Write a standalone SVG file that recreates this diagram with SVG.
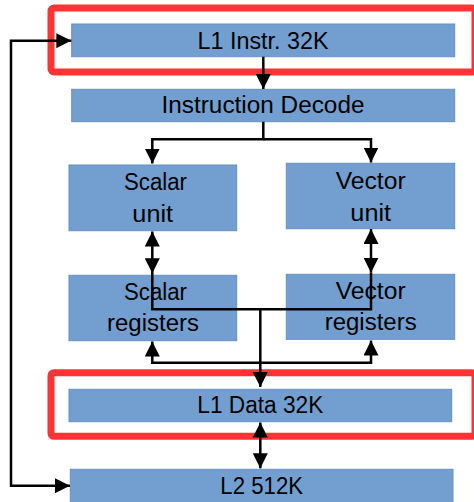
<svg xmlns="http://www.w3.org/2000/svg" width="474" height="502" viewBox="0 0 474 502">
<defs>
<style>
.box{fill:#729fcf;stroke:#6690c4;stroke-width:1}
.lbl{font-family:"Liberation Sans",Arial,sans-serif;font-size:23px;fill:#000;text-anchor:middle}
.hl{fill:none;stroke:#ff3333;stroke-width:7}
.ln{fill:none;stroke:#000;stroke-width:2.5}
</style>
<marker id="ah" viewBox="0 0 10 10" refX="10" refY="5" markerWidth="6" markerHeight="6" markerUnits="strokeWidth" orient="auto-start-reverse">
<path d="M0,0 L10,5 L0,10 z" fill="#000"/>
</marker>
</defs>
<rect x="0" y="0" width="474" height="502" fill="#fff"/>

<g id="highlight-l1i"><rect class="hl" x="51" y="8" width="424" height="64" rx="3"/></g>
<g id="highlight-l1d"><rect class="hl" x="51" y="372.7" width="424" height="63.6" rx="3"/></g>

<g id="l1-instr"><rect class="box" x="71.7" y="24" width="383" height="32.7"/><text class="lbl" x="263" y="49" textLength="131" lengthAdjust="spacingAndGlyphs">L1 Instr. 32K</text></g>
<g id="decode"><rect class="box" x="71.7" y="89.3" width="383" height="32.4"/><text class="lbl" x="263" y="113.3" textLength="203" lengthAdjust="spacingAndGlyphs">Instruction Decode</text></g>
<g id="scalar-unit"><rect class="box" x="69" y="165" width="167.7" height="65.7"/><text class="lbl" x="155.5" y="190" textLength="63" lengthAdjust="spacingAndGlyphs">Scalar</text><text class="lbl" x="152.7" y="222.3" textLength="40.7" lengthAdjust="spacingAndGlyphs">unit</text></g>
<g id="vector-unit"><rect class="box" x="286.3" y="163.3" width="168.4" height="65.4"/><text class="lbl" x="370.7" y="189.3" textLength="70" lengthAdjust="spacingAndGlyphs">Vector</text><text class="lbl" x="370.7" y="220.7" textLength="40.7" lengthAdjust="spacingAndGlyphs">unit</text></g>
<g id="scalar-regs"><rect class="box" x="69" y="275.3" width="167.7" height="65.4"/><text class="lbl" x="155.5" y="300" textLength="63" lengthAdjust="spacingAndGlyphs">Scalar</text><text class="lbl" x="153" y="331.3" textLength="92" lengthAdjust="spacingAndGlyphs">registers</text></g>
<g id="vector-regs"><rect class="box" x="286.3" y="274.3" width="168.4" height="65"/><text class="lbl" x="370.7" y="298.7" textLength="70" lengthAdjust="spacingAndGlyphs">Vector</text><text class="lbl" x="370.7" y="330" textLength="92" lengthAdjust="spacingAndGlyphs">registers</text></g>
<g id="l1-data"><rect class="box" x="69" y="389.3" width="382.7" height="32.4"/><text class="lbl" x="260.3" y="413.3" textLength="126" lengthAdjust="spacingAndGlyphs">L1 Data 32K</text></g>
<g id="l2"><rect class="box" x="70.3" y="469.3" width="382.7" height="34"/><text class="lbl" x="261.7" y="494" textLength="82.7" lengthAdjust="spacingAndGlyphs">L2 512K</text></g>

<g id="connectors">
<path class="ln" d="M263.3,56.7 V89" marker-end="url(#ah)"/>
<path class="ln" d="M263.3,121.7 V139.3 H152.3 V163.5" marker-end="url(#ah)"/>
<path class="ln" d="M263.3,139.3 H371 V162.5" marker-end="url(#ah)"/>
<path class="ln" d="M152.3,231.5 V273.3" marker-start="url(#ah)" marker-end="url(#ah)"/>
<path class="ln" d="M371,229 V272.7" marker-start="url(#ah)" marker-end="url(#ah)"/>
<path class="ln" d="M152.3,273 V309.3 H371 V272.7"/>
<path class="ln" d="M260.3,309.3 V387" marker-end="url(#ah)"/>
<path class="ln" d="M152.3,341.5 V362.7 H371 V340.5" marker-start="url(#ah)" marker-end="url(#ah)"/>
<path class="ln" d="M260.3,422.5 V468.3" marker-start="url(#ah)" marker-end="url(#ah)"/>
<path class="ln" d="M71.3,40.7 H11 V485.7 H70" marker-start="url(#ah)" marker-end="url(#ah)"/>
</g>
</svg>
